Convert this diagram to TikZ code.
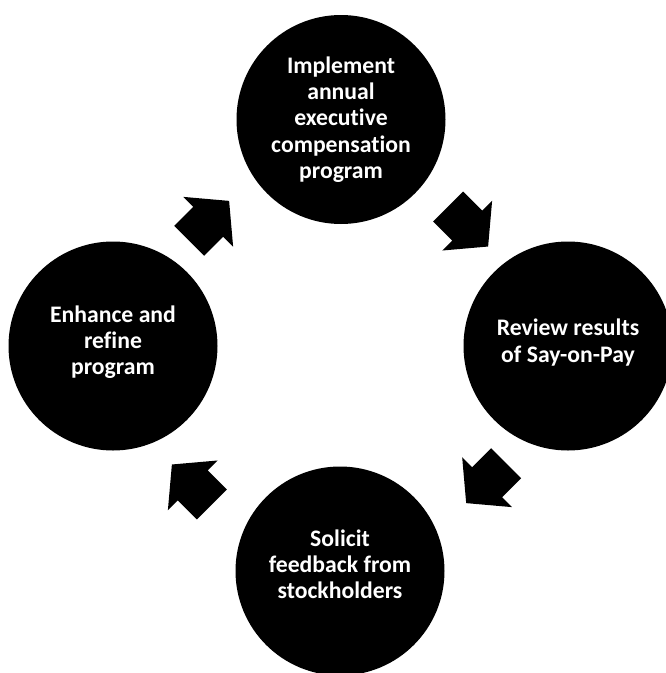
\documentclass[tikz,border=0pt]{standalone}
\usepackage{fontspec}
\setmainfont[Ligatures=NoCommon]{Carlito}
\usetikzlibrary{shapes.arrows}
\tikzset{
stage/.style={circle,fill=black,minimum size=209pt,inner sep=0pt,text=white,align=center,
 font=\bfseries\fontsize{23.7}{26.3}\selectfont},
cyclearrow/.style={single arrow,fill=black,inner xsep=0pt,inner ysep=21pt,anchor=tip,
 minimum height=56.5pt,single arrow head extend=14pt,single arrow tip angle=100}
}
\begin{document}
\begin{tikzpicture}[x=1pt,y=-1pt]
\useasboundingbox(0,0)rectangle(665,673);
\node[stage](implement)at(341,119.5){Implement\\annual\\executive\\compensation\\program};
\node[stage,text depth=10.7pt](review)at(568,346){Review results\\of Say-on-Pay};
\node[stage,text depth=14pt](solicit)at(340,571){Solicit\\feedback from\\stockholders};
\node[stage,text depth=11.7pt](enhance)at(113,346){Enhance and\\refine\\program};
% arrows between the stages
\node[cyclearrow,rotate=45](toimplement)at(229.3,200.7){};
\node[cyclearrow,rotate=-45](toreview)at(488.3,246.7){};
\node[cyclearrow,rotate=-135](tosolicit)at(466,503.3){};
\node[cyclearrow,rotate=135](toenhance)at(171.7,464.3){};
\end{tikzpicture}
\end{document}
